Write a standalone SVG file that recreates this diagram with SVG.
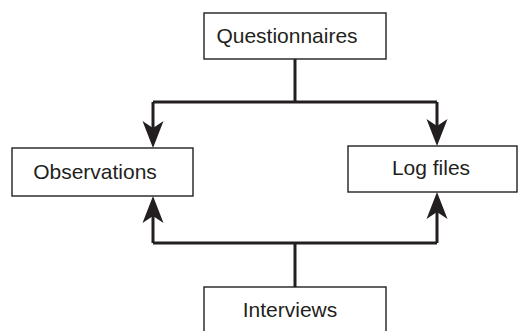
<svg xmlns="http://www.w3.org/2000/svg" xmlns:xlink="http://www.w3.org/1999/xlink" width="520" height="331" viewBox="0 0 520 331">
<style>
.box{fill:#fff;stroke:#231f20;stroke-width:1.4}
.lbl{font-family:"Liberation Sans",Arial,sans-serif;font-size:21px;fill:#231f20;text-anchor:middle}
.ln{fill:none;stroke:#231f20;stroke-width:3}
.ah{fill:#231f20}
</style>
<defs>
<path id="arr" d="M0,0 L-10.5,27 L0,20 L10.5,27 Z"/>
</defs>
<rect width="520" height="331" fill="#fff"/>
<g id="connectors">
<path class="ln" d="M295,59 V102 M153,102 H437 M153,102 V135 M437,102 V131"/>
<path class="ln" d="M295,287 V243 M153,243 H437 M153,243 V214 M437,243 V210"/>
<use class="ah" xlink:href="#arr" transform="translate(153,148) rotate(180)"/>
<use class="ah" xlink:href="#arr" transform="translate(437,146) rotate(180)"/>
<use class="ah" xlink:href="#arr" transform="translate(153,196)"/>
<use class="ah" xlink:href="#arr" transform="translate(437,192)"/>
</g>
<g id="questionnaires">
<rect class="box" x="204" y="13" width="182" height="46"/>
<text class="lbl" x="287" y="43">Questionnaires</text>
</g>
<g id="observations">
<rect class="box" x="12" y="148" width="181" height="48"/>
<text class="lbl" x="95" y="179">Observations</text>
</g>
<g id="logfiles">
<rect class="box" x="348" y="146" width="169" height="46"/>
<text class="lbl" x="431" y="175">Log files</text>
</g>
<g id="interviews">
<rect class="box" x="204" y="287" width="182" height="60"/>
<text class="lbl" x="290" y="317">Interviews</text>
</g>
</svg>
